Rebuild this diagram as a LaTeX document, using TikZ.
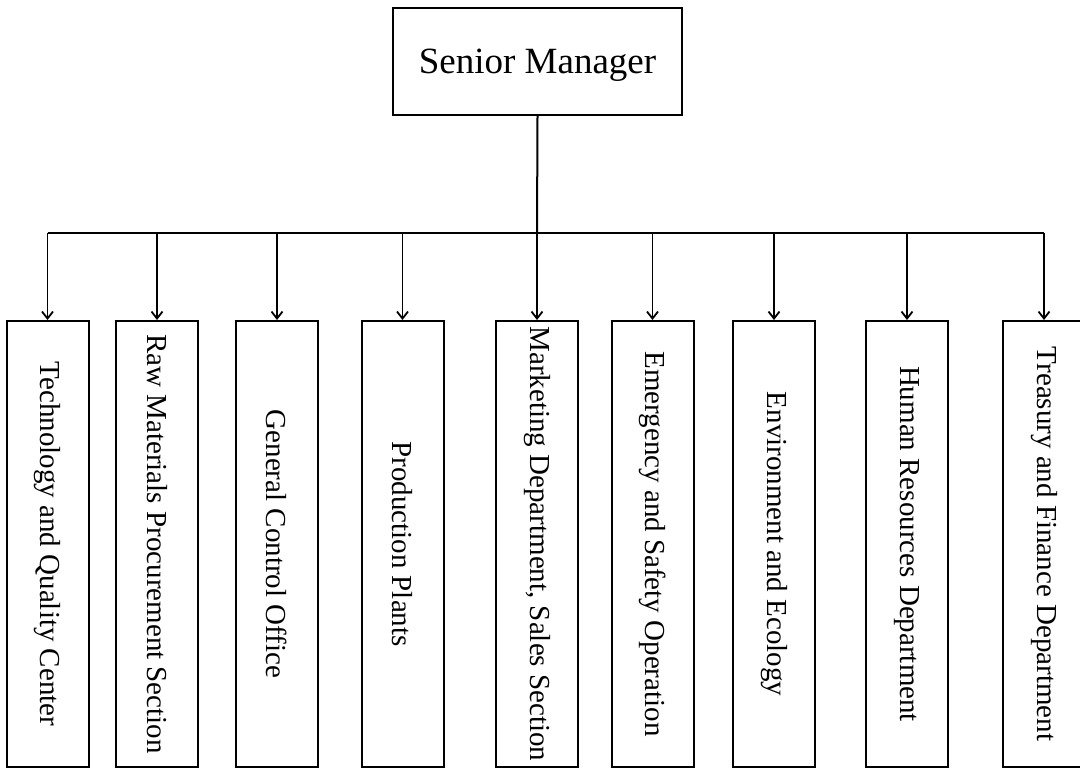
\documentclass[tikz,border=0pt]{standalone}
\usepackage{fontspec}
\setmainfont{Liberation Serif}
\usepackage{tikz}
\usetikzlibrary{arrows.meta,math}
\tikzset{%
  boss box/.style={draw, line width=1pt, minimum width=144.5pt, minimum height=53.5pt,
    inner sep=0pt, text depth=0pt, font=\fontsize{18.5}{22}\selectfont},
  dept box/.style={draw, line width=1pt, minimum width=41pt, minimum height=223pt,
    inner sep=0pt, font=\fontsize{14.5}{17}\selectfont},
  bus line/.style={line width=1pt},
  link/.style={line width=0.9pt, -{Straight Barb[length=3.5pt,width=5.5pt,line width=0.9pt]}}
}

\begin{document}
\begin{tikzpicture}[x=0.5pt,y=-0.5pt]
    \tikzmath{
      \ybus=233; % height of the common line
      \ydept=544; % middle of the department boxes
    }
    \useasboundingbox (0,0) rectangle (1080,769);
    \node[boss box] (boss) at (537.5,61.5) {Senior Manager};
    \coordinate (bus) at (537,\ybus);
    % departments
    \foreach \i/\x/\t in {%
        1/47.5/Technology and Quality Center,
        2/157/Raw Materials Procurement Section,
        3/277/General Control Office,
        4/402.5/Production Plants,
        5/537/{Marketing Department, Sales Section},
        6/652.5/Emergency and Safety Operation,
        7/774/Environment and Ecology,
        8/907/Human Resources Department,
        9/1044/Treasury and Finance Department} {
      \node[dept box] (d\i) at (\x,\ydept) {\rotatebox{-90}{\t}};
    }
    \draw[bus line] (boss.south) -- (bus);
    \draw[bus line] (d1.north |- bus) -- (d9.north |- bus);
    \foreach \i in {1,...,9} {
      \draw[link] (d\i.north |- bus) -- (d\i.north);
    }
  \end{tikzpicture}
\end{document}
